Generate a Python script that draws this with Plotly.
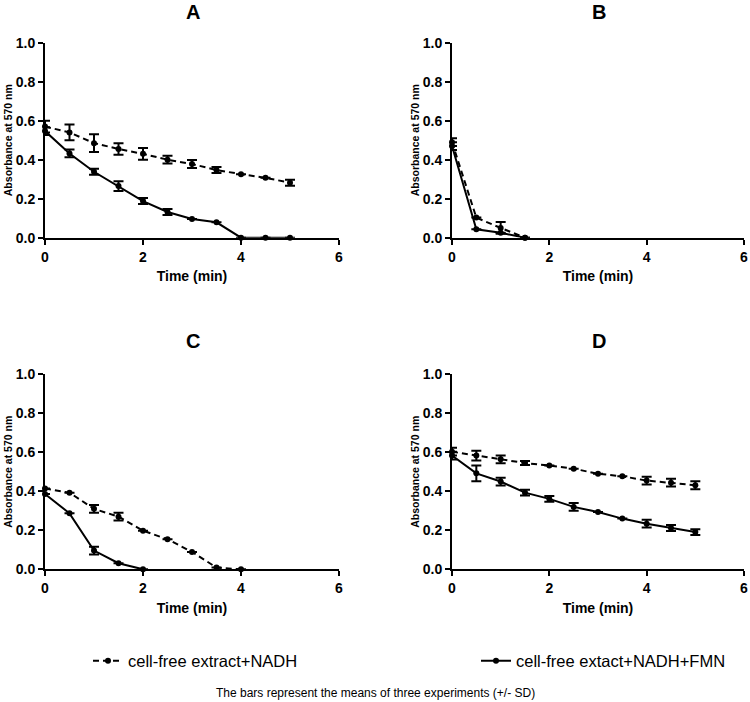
import plotly.graph_objects as go

time = [0, 0.5, 1, 1.5, 2, 2.5, 3, 3.5, 4, 4.5, 5]

# Panel A
a_nadh = [0.57, 0.54, 0.485, 0.455, 0.43, 0.40, 0.378, 0.347, 0.326, 0.307, 0.282]
a_nadh_sd = [0.03, 0.04, 0.045, 0.03, 0.03, 0.02, 0.02, 0.015, None, None, 0.015]
a_fmn = [0.547, 0.432, 0.338, 0.265, 0.188, 0.132, 0.096, 0.079, 0.0, 0.0, 0.0]
a_fmn_sd = [0.02, 0.02, 0.015, 0.025, 0.015, 0.015, None, None, None, None, None]

# Panel B
b_time = [0, 0.5, 1, 1.5]
b_nadh = [0.49, 0.103, 0.05, 0.0]
b_nadh_sd = [0.02, None, 0.03, None]
b_fmn = [0.47, 0.043, 0.025, 0.0]
b_fmn_sd = [0.02, None, None, None]

# Panel C
c_nadh_time = [0, 0.5, 1, 1.5, 2, 2.5, 3, 3.5, 4]
c_nadh = [0.414, 0.393, 0.31, 0.27, 0.198, 0.154, 0.089, 0.009, 0.0]
c_nadh_sd = [None, None, 0.02, 0.02, None, None, None, None, None]
c_fmn_time = [0, 0.5, 1, 1.5, 2]
c_fmn = [0.386, 0.287, 0.096, 0.031, 0.0]
c_fmn_sd = [None, None, 0.02, None, None]

# Panel D
d_nadh = [0.603, 0.583, 0.564, 0.545, 0.532, 0.516, 0.49, 0.477, 0.455, 0.444, 0.431]
d_nadh_sd = [0.02, 0.025, 0.02, 0.01, None, None, None, None, 0.02, 0.02, 0.02]
d_fmn = [0.583, 0.492, 0.45, 0.393, 0.361, 0.32, 0.294, 0.26, 0.234, 0.212, 0.191]
d_fmn_sd = [0.02, 0.04, 0.02, 0.015, 0.015, 0.02, None, None, 0.02, 0.015, 0.015]

panel_titles = ["A", "B", "C", "D"]
legend_names = ["cell-free extract+NADH", "cell-free extact+NADH+FMN"]
footnote = "The bars represent the means of three experiments (+/- SD)"
x_ticks = [0, 2, 4, 6]
y_ticks = [0.0, 0.2, 0.4, 0.6, 0.8, 1.0]

panels = [
    (time, a_nadh, a_nadh_sd, time, a_fmn, a_fmn_sd),
    (b_time, b_nadh, b_nadh_sd, b_time, b_fmn, b_fmn_sd),
    (c_nadh_time, c_nadh, c_nadh_sd, c_fmn_time, c_fmn, c_fmn_sd),
    (time, d_nadh, d_nadh_sd, time, d_fmn, d_fmn_sd),
]

W, H = 750, 702


def fx(px):
    return px / W


def fy(py):
    return 1 - py / H


xdoms = [[fx(45), fx(339)], [fx(452), fx(744)]]
ydoms = [[fy(237.7), fy(42.7)], [fy(569.3), fy(374.3)]]

FONT = "Liberation Sans, Arial, sans-serif"
fig = go.Figure()

for i, (tx1, y1, e1, tx2, y2, e2) in enumerate(panels):
    n = i + 1
    xa = "x" if n == 1 else f"x{n}"
    ya = "y" if n == 1 else f"y{n}"
    for tx, yy, ee, dash, nm, lg in [
        (tx1, y1, e1, "6px,4px", legend_names[0], "legend"),
        (tx2, y2, e2, "solid", legend_names[1], "legend2"),
    ]:
        fig.add_trace(go.Scatter(
            x=tx, y=yy, xaxis=xa, yaxis=ya, mode="lines+markers",
            line=dict(color="black", width=2, dash=dash),
            marker=dict(color="black", size=6, symbol="circle"),
            error_y=dict(type="data", array=ee, visible=True, color="black",
                         thickness=2, width=5),
            name=nm, legend=lg, showlegend=(n == 1), cliponaxis=False,
        ))

layout_axes = {}
for i in range(4):
    n = i + 1
    col = i % 2
    row = i // 2
    xk = "xaxis" if n == 1 else f"xaxis{n}"
    yk = "yaxis" if n == 1 else f"yaxis{n}"
    layout_axes[xk] = dict(
        domain=xdoms[col], range=[0, 6], anchor="y" if n == 1 else f"y{n}",
        tickvals=x_ticks, ticks="outside", ticklen=5, tickwidth=2, tickcolor="black",
        showline=True, linecolor="black", linewidth=2, showgrid=False, zeroline=False,
        ticklabeloverflow="allow", automargin=False,
        tickfont=dict(family=FONT, size=14, color="black", weight="bold"),
        title=dict(text="Time (min)", font=dict(family=FONT, size=14, color="black", weight="bold"), standoff=8),
    )
    layout_axes[yk] = dict(
        domain=ydoms[row], range=[0, 1.0], anchor="x" if n == 1 else f"x{n}",
        tickvals=y_ticks, tickformat=".1f", ticks="outside", ticklen=5, tickwidth=2, tickcolor="black",
        showline=True, linecolor="black", linewidth=2, showgrid=False, zeroline=False,
        automargin=False,
        tickfont=dict(family=FONT, size=14, color="black", weight="bold"),
        title=dict(text="Absorbance at 570 nm", font=dict(family=FONT, size=10.5, color="black", weight="bold"), standoff=1),
    )

annotations = []
title_pos = [(193, 12), (599, 12), (193, 341), (599, 341)]
for t, (px, py) in zip(panel_titles, title_pos):
    annotations.append(dict(text=f"<b>{t}</b>", x=fx(px), y=fy(py), xref="paper", yref="paper",
                            showarrow=False, xanchor="center", yanchor="middle",
                            font=dict(family=FONT, size=20, color="black")))
annotations.append(dict(text=footnote, x=fx(375), y=fy(693), xref="paper", yref="paper",
                        showarrow=False, xanchor="center", yanchor="middle",
                        font=dict(family="Liberation Sans Narrow, Arial Narrow, Liberation Sans, Arial", size=12, color="black")))

fig.update_layout(
    width=W, height=H, margin=dict(l=0, r=0, t=0, b=0),
    paper_bgcolor="white", plot_bgcolor="white",
    annotations=annotations,
    legend=dict(x=fx(88), y=fy(661), xanchor="left", yanchor="middle", bgcolor="rgba(0,0,0,0)",
                font=dict(family=FONT, size=16.5, color="black"), itemwidth=30),
    legend2=dict(x=fx(476), y=fy(661), xanchor="left", yanchor="middle", bgcolor="rgba(0,0,0,0)",
                 font=dict(family=FONT, size=16.5, color="black"), itemwidth=30),
    **layout_axes,
)

fig.write_html(
    "out.html",
    config={"displayModeBar": False},
    post_script="document.body.style.margin='0';document.body.style.overflow='hidden';",
)
